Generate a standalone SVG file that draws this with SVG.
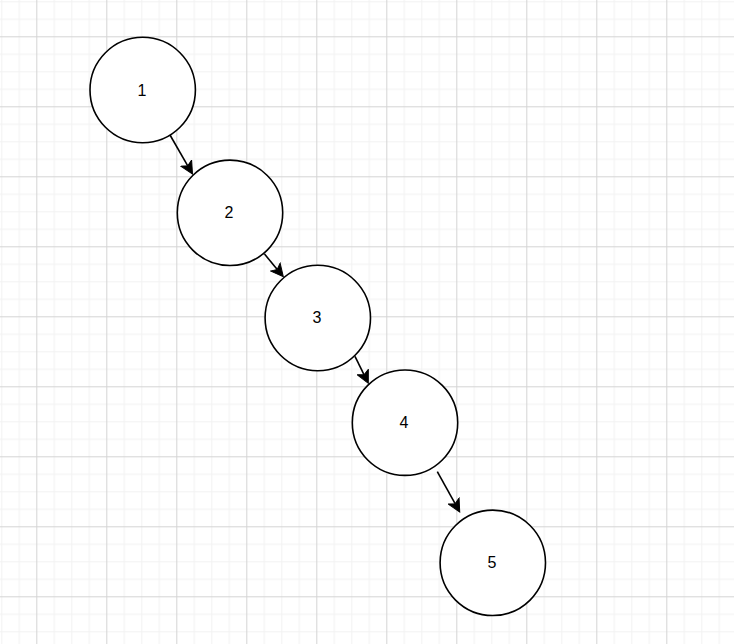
<svg xmlns="http://www.w3.org/2000/svg" width="734" height="644" viewBox="0 0 734 644">
<style>
.node circle{fill:#ffffff;stroke:#000000;stroke-width:1.6}
.edge{stroke:#000000;stroke-width:1.6;fill:none;marker-end:url(#arrow)}
</style>
<defs>
<pattern id="grid" patternUnits="userSpaceOnUse" x="36.3" y="36.3" width="70" height="70">
<rect x="0" y="0" width="70" height="70" fill="#ffffff"/>
<g fill="#f2f2f2">
<rect x="17.5" y="0" width="1" height="70"/>
<rect x="35" y="0" width="1" height="70"/>
<rect x="52.5" y="0" width="1" height="70"/>
<rect x="0" y="17.5" width="70" height="1"/>
<rect x="0" y="35" width="70" height="1"/>
<rect x="0" y="52.5" width="70" height="1"/>
</g>
<g fill="#d4d4d4">
<rect x="0" y="0" width="1" height="70"/>
<rect x="0" y="0" width="70" height="1"/>
</g>
</pattern>
<marker id="arrow" markerUnits="userSpaceOnUse" viewBox="0 0 14 14" markerWidth="14" markerHeight="14" refX="3.5" refY="7" orient="auto">
<path d="M13,7 L0.5,0.8 L3.5,7 L0.5,13.2 Z" fill="#000000" stroke="#000000" stroke-width="1" stroke-linejoin="miter"/>
</marker>
</defs>
<rect x="0" y="0" width="734" height="644" fill="url(#grid)"/>
<g id="connectors">
<line class="edge" x1="170" y1="135" x2="187.75" y2="165.8"/>
<line class="edge" x1="264.5" y1="254" x2="277.25" y2="269.4"/>
<line class="edge" x1="355" y1="356.3" x2="364.1" y2="374.8"/>
<line class="edge" x1="437.3" y1="471.7" x2="455.1" y2="503.7"/>
</g>
<g font-family="'Liberation Sans', Arial, sans-serif" font-size="16" fill="#000000" text-anchor="middle">
<g id="node1" class="node"><circle cx="142.7" cy="90" r="52.7"/><text x="142" y="95.5">1</text></g>
<g id="node2" class="node"><circle cx="230" cy="212.8" r="52.7"/><text x="229" y="218">2</text></g>
<g id="node3" class="node"><circle cx="317.8" cy="318" r="52.7"/><text x="317" y="323.2">3</text></g>
<g id="node4" class="node"><circle cx="405" cy="422.7" r="52.7"/><text x="404" y="427.9">4</text></g>
<g id="node5" class="node"><circle cx="492.8" cy="562.8" r="52.7"/><text x="492" y="568">5</text></g>
</g>
</svg>
